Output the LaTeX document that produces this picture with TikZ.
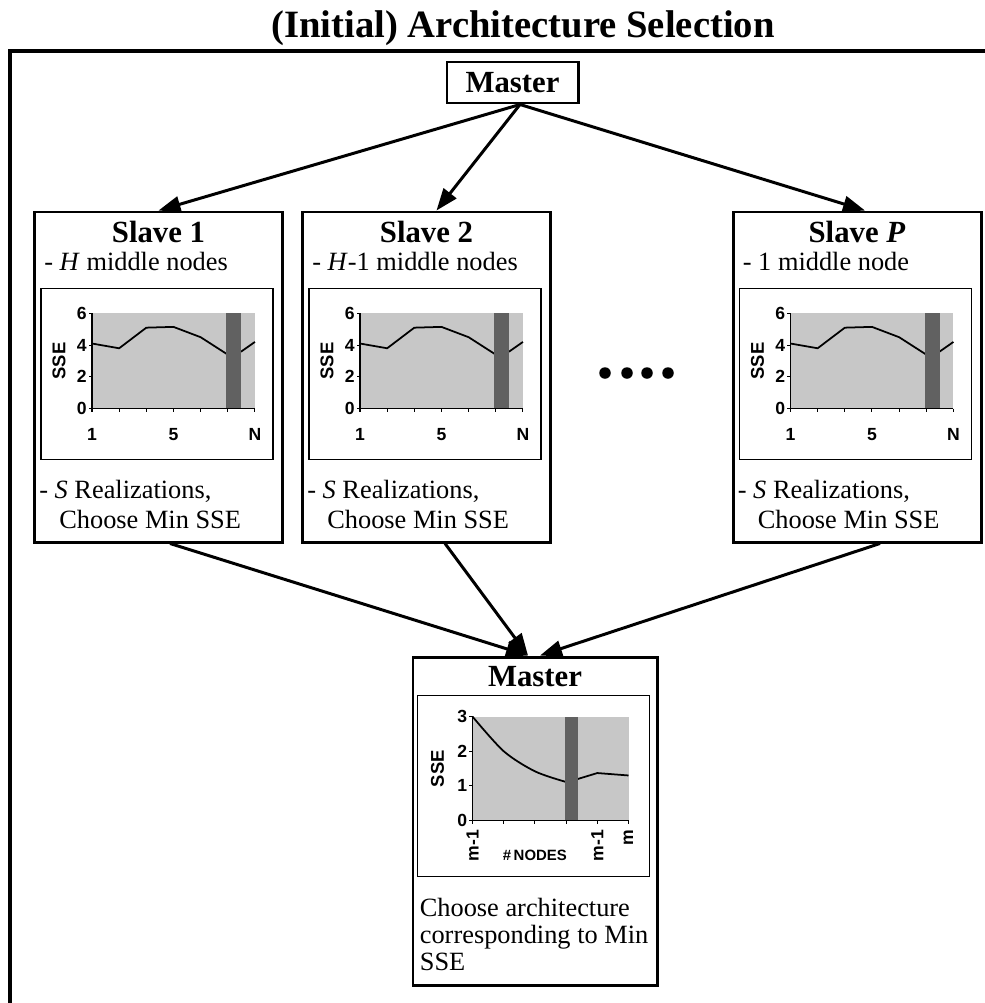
\documentclass[tikz,border=0pt]{standalone}
\usepackage{fontspec}
\setmainfont{Liberation Serif}
\setsansfont{Liberation Sans}
\usetikzlibrary{arrows.meta}
\usetikzlibrary{positioning}
\tikzset{
  MyBox/.style={
    rectangle, inner sep=0pt,
    line width=1.7pt, draw=black, fill=white,
  },
  BoxTitle/.style={font=\fontsize{17.5}{20}\selectfont\bfseries, inner sep=0pt},
  BoxText/.style={font=\fontsize{15}{17}\selectfont, inner sep=0pt, align=left},
  ChartFrame/.style={draw=black, line width=0.6pt},
  PlotFill/.style={fill=black!22},
  BandFill/.style={fill=black!62},
  ChartLab/.style={font=\fontsize{10}{11}\selectfont\sffamily\bfseries, inner sep=0pt},
  MyArrow/.style={-{Triangle[length=0.44cm, width=0.32cm]}, line width=1.7pt},
}

\begin{document}
\begin{tikzpicture}
\useasboundingbox (0,0) rectangle (19.7,-20.06);
\draw[line width=1.9pt] (0.2,-20.06) -- (0.2,-1.02) -- (19.7,-1.02);
\node[font=\fontsize{22}{24}\selectfont\bfseries] (TITLE) at (10.46,-0.56) {(Initial) Architecture Selection};
\node[MyBox, BoxTitle, minimum width=2.62cm, minimum height=0.82cm] (MTOP) at (10.25,-1.65) {Master};
\node[MyBox, minimum width=4.96cm, minimum height=6.6cm] (S1) at (3.17,-7.54) {};
\node[MyBox, minimum width=4.96cm, minimum height=6.6cm] (S2) at (8.53,-7.54) {};
\node[MyBox, minimum width=4.96cm, minimum height=6.6cm] (SP) at (17.14,-7.54) {};
\node[MyBox, minimum width=4.88cm, minimum height=6.56cm] (MBOT) at (10.7,-16.42) {};
\node[BoxTitle] (S1T) at ([yshift=-0.42cm]S1.north) {Slave 1};
\node[BoxTitle] (S2T) at ([yshift=-0.42cm]S2.north) {Slave 2};
\node[BoxTitle] (SPT) at ([yshift=-0.42cm]SP.north) {Slave \textit{P}};
\node[BoxTitle] (MBOTT) at ([yshift=-0.42cm]MBOT.north) {Master};
\node[BoxText, anchor=west] (S1A) at ([shift={(0.22,-1.02)}]S1.north west) {- \textit{H} middle nodes};
\node[BoxText, anchor=west] (S2A) at ([shift={(0.22,-1.02)}]S2.north west) {- \textit{H}-1 middle nodes};
\node[BoxText, anchor=west] (SPA) at ([shift={(0.22,-1.02)}]SP.north west) {- 1 middle node};
\foreach \s in {S1,S2,SP}{
  \node[BoxText, anchor=north west] (\s B) at ([shift={(0.12,-5.38)}]\s.north west) {- \textit{S} Realizations,\\\hspace*{0.4cm}Choose Min SSE};
  \draw[ChartFrame] ([shift={(0.16,-1.56)}]\s.north west) rectangle ([shift={(4.8,-4.98)}]\s.north west);
  \begin{scope}[shift={([shift={(1.18,-3.96)}]\s.north west)}, x=0.543cm, y=0.317cm]
    \fill[PlotFill] (0,0) rectangle (6,6);
    \draw[line width=1pt] (0,4.1) -- (1,3.8) -- (2,5.1) -- (3,5.15) -- (4,4.5) -- (5,3.4) -- (5.5,3.6) -- (6,4.2);
    \fill[BandFill] (4.95,0) rectangle (5.5,6);
    \draw[line width=0.6pt] (0,6) -- (0,0) -- (6,0);
    \foreach \i in {0,...,6} \draw[line width=0.6pt] (\i,0) -- ++(0,-0.07cm);
    \foreach \j in {0,2,4,6} {
      \draw[line width=0.6pt] (0,\j) -- ++(-0.07cm,0);
      \node[ChartLab, anchor=east] at ([xshift=-0.1cm]0,\j) {\j};
    }
    \node[ChartLab] at ([yshift=-0.52cm]0,0) {1};
    \node[ChartLab] at ([yshift=-0.52cm]3,0) {5};
    \node[ChartLab] at ([yshift=-0.52cm]6,0) {N};
    \node[ChartLab, font=\fontsize{10.5}{11}\selectfont\sffamily\bfseries, rotate=90] at ([xshift=-0.66cm]0,3) {SSE};
  \end{scope}
}
\draw[ChartFrame] ([shift={(0.12,-0.8)}]MBOT.north west) rectangle ([shift={(4.76,-4.42)}]MBOT.north west);
\begin{scope}[shift={([shift={(1.22,-3.3)}]MBOT.north west)}, x=0.624cm, y=0.693cm]
  \fill[PlotFill] (0,0) rectangle (5,3);
  \draw[line width=1pt] plot[smooth] coordinates {(0,3) (1,2) (2,1.42) (2.97,1.12)} -- (3.38,1.2) -- (4,1.37) -- (5,1.3);
  \fill[BandFill] (2.97,0) rectangle (3.38,3);
  \draw[line width=0.6pt] (0,3) -- (0,0) -- (5,0);
  \foreach \i in {0,...,5} \draw[line width=0.6pt] (\i,0) -- ++(0,-0.07cm);
  \foreach \j in {0,1,2,3} {
    \draw[line width=0.6pt] (0,\j) -- ++(-0.07cm,0);
    \node[ChartLab, anchor=east] at ([xshift=-0.1cm]0,\j) {\j};
  }
  \node[ChartLab, rotate=90, anchor=east] at ([yshift=-0.18cm]0,0) {m-1};
  \node[ChartLab, rotate=90, anchor=east] at ([yshift=-0.18cm]4,0) {m-1};
  \node[ChartLab, rotate=90, anchor=east] at ([yshift=-0.18cm]5,0) {m};
  \node[ChartLab, font=\fontsize{8.5}{9}\selectfont\sffamily\bfseries] at ([yshift=-0.7cm]2,0) {\#\,NODES};
  \node[ChartLab, font=\fontsize{10.5}{11}\selectfont\sffamily\bfseries, rotate=90] at ([xshift=-0.7cm]0,1.5) {SSE};
\end{scope}
\node[BoxText, font=\fontsize{15}{15.5}\selectfont, anchor=north west] (MBOTB) at ([shift={(0.16,-4.84)}]MBOT.north west) {Choose architecture\\corresponding to Min\\SSE};
\foreach \x in {12.1,12.54,12.94,13.36} \fill (\x,-7.46) circle (0.115cm);
\draw[MyArrow] ([xshift=0.15cm]MTOP.south) -- (S1.north);
\draw[MyArrow] ([xshift=0.15cm]MTOP.south) -- ([xshift=0.2cm]S2.north);
\draw[MyArrow] ([xshift=0.15cm]MTOP.south) -- ([xshift=0.16cm]SP.north);
\draw[MyArrow] ([xshift=0.23cm]S1.south) -- ([xshift=-0.14cm]MBOT.north);
\draw[MyArrow] ([xshift=0.37cm]S2.south) -- ([xshift=-0.14cm]MBOT.north);
\draw[MyArrow] ([xshift=0.46cm]SP.south) -- ([xshift=0.1cm]MBOT.north);
\end{tikzpicture}
\end{document}
